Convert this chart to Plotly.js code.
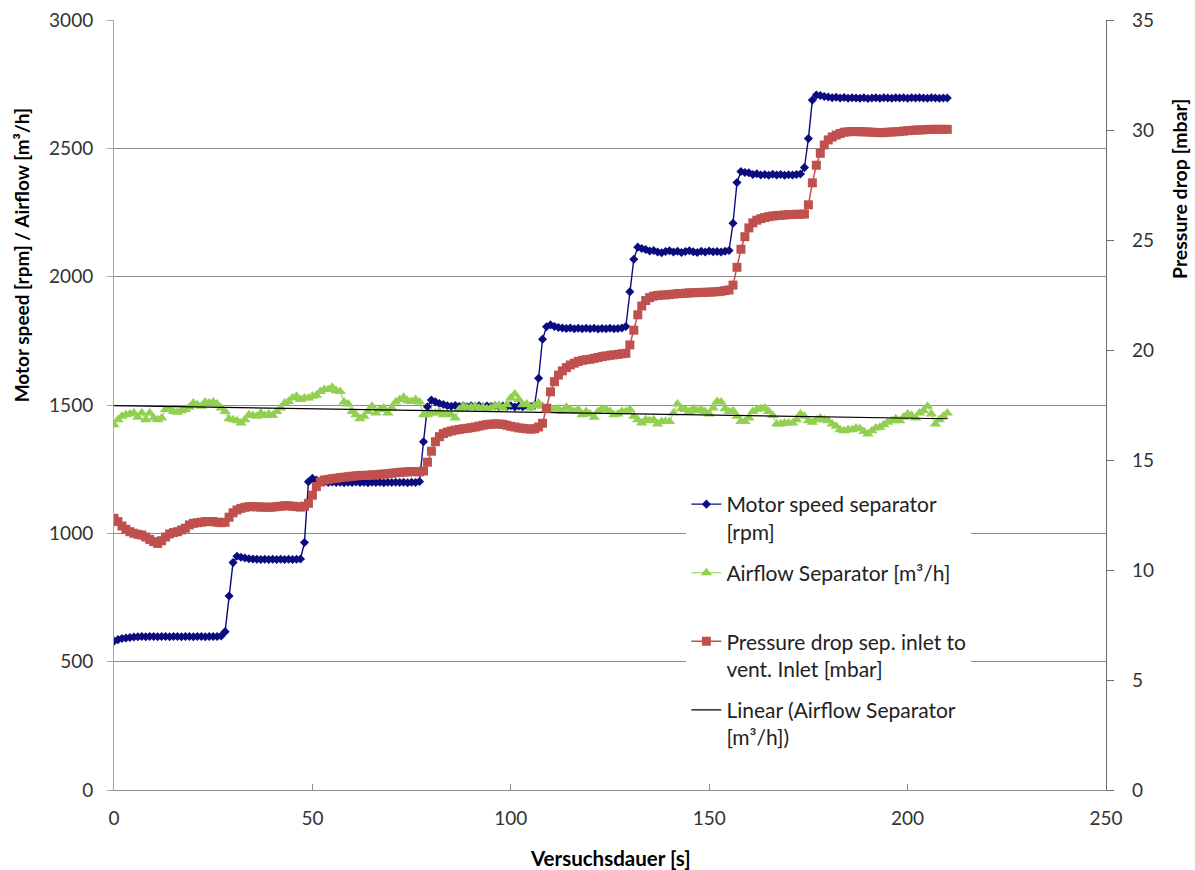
<!DOCTYPE html>
<html>
<head>
<meta charset="utf-8">
<script src="https://cdn.plot.ly/plotly-3.0.1.min.js"></script>
<style>
  html, body { margin: 0; padding: 0; background: #ffffff; }
  #chart { width: 1195px; height: 870px; }
</style>
</head>
<body>
<div id="chart"></div>
<script>
// Test duration in seconds (one sample per second)
const timeSec = [
  0,1,2,3,4,5,6,7,8,9,10,11,12,13,14,15,16,17,18,19,20,21,22,23,24,25,26,27,28,29,
  30,31,32,33,34,35,36,37,38,39,40,41,42,43,44,45,46,47,48,49,50,51,52,53,54,55,56,57,58,59,
  60,61,62,63,64,65,66,67,68,69,70,71,72,73,74,75,76,77,78,79,80,81,82,83,84,85,86,87,88,89,
  90,91,92,93,94,95,96,97,98,99,100,101,102,103,104,105,106,107,108,109,110,111,112,113,114,115,116,117,118,119,
  120,121,122,123,124,125,126,127,128,129,130,131,132,133,134,135,136,137,138,139,140,141,142,143,144,145,146,147,148,149,
  150,151,152,153,154,155,156,157,158,159,160,161,162,163,164,165,166,167,168,169,170,171,172,173,174,175,176,177,178,179,
  180,181,182,183,184,185,186,187,188,189,190,191,192,193,194,195,196,197,198,199,200,201,202,203,204,205,206,207,208,209,
  210
];

// Motor speed separator [rpm]
const motorSpeed = [
  580,586,590,592,594,596,597,598,597,598,598,597,598,598,597,598,598,597,598,598,597,598,598,597,598,598,598,600,617,756,
  886,911,907,904,901,900,899,898,899,898,899,898,899,898,899,898,899,900,964,1201,1214,1208,1203,1200,1198,1200,1198,1199,1197,1199,
  1198,1200,1198,1199,1197,1199,1198,1199,1197,1199,1198,1199,1198,1199,1197,1199,1198,1202,1357,1493,1519,1512,1506,1502,1497,1495,1498,1494,1497,1493,
  1497,1494,1497,1493,1496,1494,1497,1493,1496,1493,1497,1492,1496,1493,1497,1494,1500,1604,1756,1805,1812,1806,1802,1800,1798,1800,1797,1799,1797,1799,
  1797,1799,1796,1798,1797,1799,1797,1798,1800,1806,1941,2068,2115,2110,2106,2100,2102,2096,2093,2098,2101,2096,2099,2094,2098,2101,2097,2094,2099,2096,
  2100,2097,2098,2096,2099,2102,2208,2367,2410,2406,2405,2398,2401,2396,2398,2395,2399,2396,2398,2395,2397,2396,2398,2400,2425,2538,2688,2708,2706,2702,
  2700,2697,2699,2696,2698,2695,2697,2696,2695,2697,2694,2696,2697,2695,2697,2696,2695,2697,2696,2697,2695,2697,2696,2697,2696,2695,2697,2696,2695,2696,
  2696
];

// Airflow Separator [m³/h]
const airflow = [
  1423,1443,1456,1462,1465,1469,1452,1469,1443,1469,1449,1443,1449,1482,1482,1475,1472,1478,1482,1491,1508,1501,1495,1512,1508,1512,1504,1488,1475,1446,
  1443,1439,1430,1443,1462,1459,1456,1469,1459,1465,1459,1475,1488,1508,1514,1527,1534,1521,1527,1527,1534,1538,1553,1560,1560,1569,1556,1553,1512,1504,
  1475,1462,1446,1456,1475,1495,1469,1482,1488,1469,1488,1512,1521,1530,1517,1514,1521,1512,1462,1462,1469,1469,1475,1462,1465,1462,1449,1482,1495,1488,
  1491,1495,1488,1491,1485,1488,1495,1498,1488,1501,1527,1543,1521,1501,1504,1488,1498,1508,1495,1482,1488,1482,1485,1475,1491,1482,1475,1482,1462,1475,
  1465,1452,1475,1485,1482,1475,1462,1465,1475,1475,1482,1456,1443,1430,1443,1439,1443,1426,1436,1436,1436,1469,1504,1485,1482,1475,1485,1478,1482,1475,
  1465,1488,1514,1512,1485,1475,1478,1456,1436,1436,1449,1475,1482,1485,1488,1475,1459,1426,1426,1430,1430,1430,1443,1465,1456,1439,1433,1443,1449,1443,
  1439,1426,1417,1404,1400,1404,1404,1410,1407,1397,1387,1400,1410,1413,1423,1433,1439,1446,1439,1452,1465,1459,1449,1469,1478,1495,1465,1426,1443,1456,
  1469
];

// Pressure drop sep. inlet to vent. inlet [mbar]
const pressureDrop = [
  12.35,12.2,12.0,11.85,11.74,11.67,11.62,11.59,11.5,11.39,11.29,11.21,11.33,11.5,11.64,11.7,11.74,11.82,11.9,12.05,12.12,12.15,12.17,12.2,12.2,12.2,12.17,12.15,12.17,12.4,
  12.6,12.73,12.8,12.85,12.88,12.88,12.87,12.86,12.86,12.85,12.86,12.88,12.9,12.92,12.92,12.9,12.88,12.86,12.9,13.03,13.4,13.79,14.0,14.09,14.12,14.15,14.17,14.2,14.22,14.24,
  14.26,14.28,14.3,14.3,14.31,14.32,14.33,14.35,14.36,14.38,14.4,14.42,14.44,14.45,14.46,14.47,14.47,14.46,14.5,14.9,15.4,15.83,16.06,16.2,16.27,16.32,16.36,16.39,16.42,16.44,
  16.47,16.5,16.54,16.58,16.61,16.63,16.64,16.64,16.62,16.58,16.53,16.5,16.46,16.44,16.42,16.4,16.42,16.5,16.67,17.35,18.1,18.56,18.86,19.05,19.2,19.32,19.4,19.48,19.53,19.56,
  19.58,19.62,19.66,19.7,19.73,19.76,19.78,19.8,19.83,19.85,20.23,20.9,21.6,22.0,22.25,22.38,22.45,22.48,22.5,22.5,22.52,22.54,22.56,22.57,22.58,22.6,22.6,22.61,22.62,22.62,
  22.63,22.64,22.65,22.67,22.7,22.73,22.95,23.76,24.58,25.15,25.55,25.78,25.9,25.97,26.02,26.06,26.09,26.11,26.12,26.14,26.15,26.16,26.17,26.17,26.18,26.6,27.6,28.4,28.94,29.32,
  29.55,29.68,29.77,29.84,29.9,29.92,29.93,29.93,29.92,29.92,29.91,29.9,29.89,29.88,29.88,29.9,29.91,29.92,29.93,29.95,29.97,29.98,30.0,30.0,30.01,30.02,30.03,30.03,30.03,30.03,
  30.03
];

const xTickVals = [0, 50, 100, 150, 200, 250];
const yLeftTickVals = [0, 500, 1000, 1500, 2000, 2500, 3000];
const yRightTickVals = [0, 5, 10, 15, 20, 25, 30, 35];

// Least-squares linear trend of the airflow series
function linearFit(xs, ys) {
  const n = xs.length;
  let sx = 0, sy = 0, sxx = 0, sxy = 0;
  for (let i = 0; i < n; i++) {
    sx += xs[i]; sy += ys[i]; sxx += xs[i] * xs[i]; sxy += xs[i] * ys[i];
  }
  const slope = (n * sxy - sx * sy) / (n * sxx - sx * sx);
  const intercept = (sy - slope * sx) / n;
  return { slope, intercept };
}
const fit = linearFit(timeSec, airflow);
const trendX = [timeSec[0], timeSec[timeSec.length - 1]];
const trendY = trendX.map(t => fit.intercept + fit.slope * t);

const FONT = 'Lato, "Open Sans", "DejaVu Sans", sans-serif';

const traces = [
  {
    x: timeSec, y: motorSpeed, type: 'scatter', mode: 'lines+markers',
    name: 'Motor speed separator<br>[rpm]', legendgroup: 'a',
    line: { color: '#0c0c80', width: 1.4 },
    marker: { symbol: 'diamond', size: 7, color: '#0c0c80' }
  },
  {
    x: timeSec, y: airflow, type: 'scatter', mode: 'lines+markers',
    name: 'Airflow Separator [m³/h]<br> ', legendgroup: 'b',
    line: { color: '#92d050', width: 1 },
    marker: { symbol: 'triangle-up', size: 10, color: '#92d050' }
  },
  {
    x: timeSec, y: pressureDrop, type: 'scatter', mode: 'lines+markers', yaxis: 'y2',
    name: 'Pressure drop sep. inlet to<br>vent. Inlet [mbar]', legendgroup: 'c',
    line: { color: '#c0504d', width: 1.5 },
    marker: { symbol: 'square', size: 9, color: '#c0504d' }
  },
  {
    x: trendX, y: trendY, type: 'scatter', mode: 'lines',
    name: 'Linear (Airflow Separator<br>[m³/h])', legendgroup: 'd',
    line: { color: '#000000', width: 1.2 }
  }
];

const layout = {
  width: 1195, height: 870,
  margin: { l: 114, r: 89, t: 20, b: 80 },
  paper_bgcolor: '#ffffff', plot_bgcolor: '#ffffff',
  font: { family: FONT, size: 19, color: '#333333' },
  showlegend: true,
  legend: {
    x: 0.577, xanchor: 'left', y: 0.3974, yanchor: 'top',
    bgcolor: '#ffffff', borderwidth: 0,
    font: { family: FONT, size: 21, color: '#222222' },
    valign: 'top', tracegroupgap: 11, itemwidth: 30
  },
  xaxis: {
    range: [0, 250], tickvals: xTickVals, ticktext: xTickVals.map(String),
    showgrid: false, zeroline: false,
    showline: true, linecolor: '#8c8c8c', linewidth: 1,
    ticks: 'inside', ticklen: 6, tickcolor: '#8c8c8c', ticklabelstandoff: 11,
    tickfont: { family: FONT, size: 19, color: '#333333' }
  },
  yaxis: {
    range: [0, 3000], tickvals: yLeftTickVals, ticktext: yLeftTickVals.map(String),
    showgrid: true, gridcolor: '#8c8c8c', gridwidth: 1, zeroline: false,
    showline: true, linecolor: '#a6a6a6', linewidth: 1,
    ticks: 'outside', ticklen: 6, tickcolor: '#a6a6a6', ticklabelstandoff: 10,
    tickfont: { family: FONT, size: 19, color: '#333333' }
  },
  yaxis2: {
    range: [0, 35], tickvals: yRightTickVals, ticktext: yRightTickVals.map(String),
    overlaying: 'y', side: 'right', showgrid: false, zeroline: false,
    showline: true, linecolor: '#6e6e6e', linewidth: 1.3,
    ticks: 'outside', ticklen: 7, tickcolor: '#6e6e6e', ticklabelstandoff: 14,
    tickfont: { family: FONT, size: 19, color: '#333333' }
  },
  annotations: [
    {
      text: '<b>Versuchsdauer [s]</b>', xref: 'paper', yref: 'paper',
      x: 0.5, y: -0.088, xanchor: 'center', yanchor: 'middle', showarrow: false,
      font: { family: FONT, size: 20.5, color: '#000000' }
    },
    {
      text: '<b>Motor speed [rpm] / Airflow [m³/h]</b>', xref: 'paper', yref: 'paper',
      x: -0.093, y: 0.694, xanchor: 'center', yanchor: 'middle', showarrow: false,
      textangle: -90, font: { family: FONT, size: 19, color: '#000000' }
    },
    {
      text: '<b>Pressure drop [mbar]</b>', xref: 'paper', yref: 'paper',
      x: 1.074, y: 0.781, xanchor: 'center', yanchor: 'middle', showarrow: false,
      textangle: -90, font: { family: FONT, size: 19.5, color: '#000000' }
    }
  ]
};

Plotly.newPlot('chart', traces, layout, { displayModeBar: false, staticPlot: true });
</script>
</body>
</html>
